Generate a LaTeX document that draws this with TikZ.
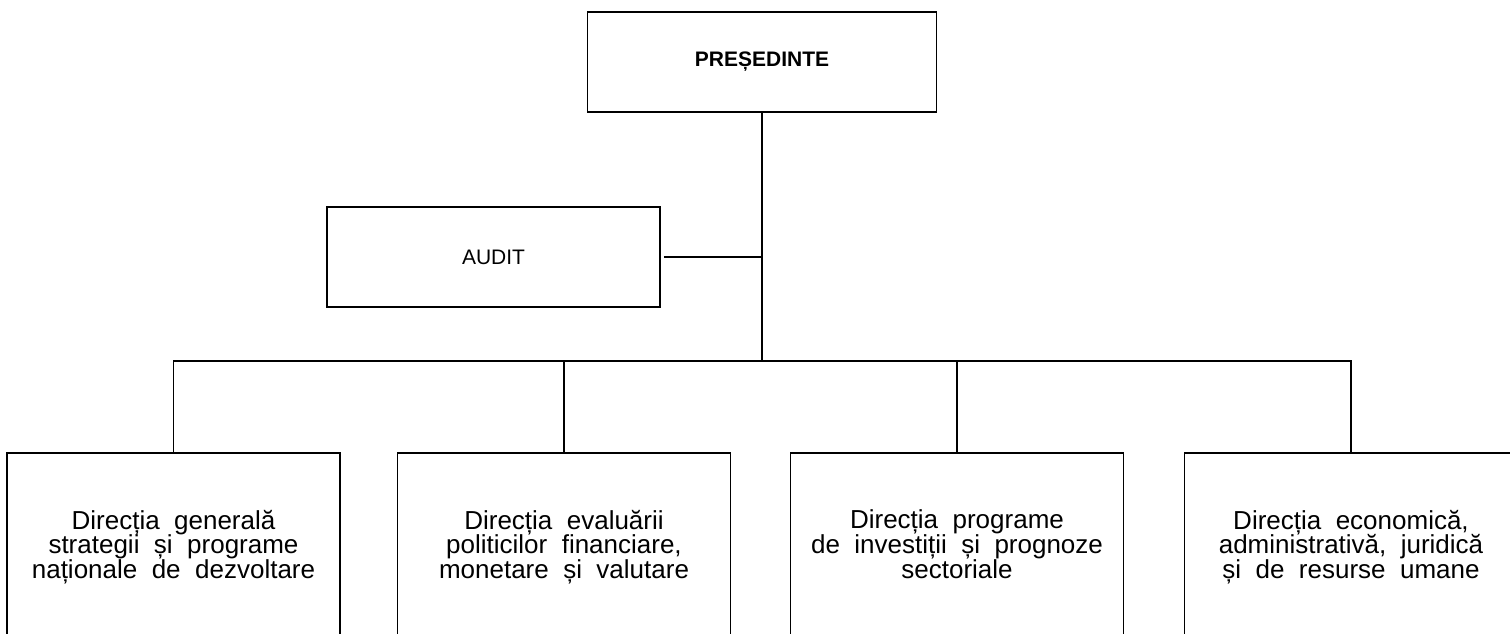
\documentclass[tikz,border=0pt]{standalone}
\usepackage{fontspec}
\setmainfont{Liberation Sans}[WordSpace=2]
\usetikzlibrary{positioning,calc}

\begin{document}
\begin{tikzpicture}[x=0.5pt,y=-0.5pt,
    box/.style={draw, line width=0.9pt, minimum width=166.5pt, minimum height=50pt,
                align=center, inner sep=0pt, font=\fontsize{10.5}{12}\selectfont},
    dirbox/.style={box, minimum height=94pt, font=\fontsize{13}{12.4}\selectfont},
    link/.style={line width=0.9pt}]
            \clip (0,0) rectangle (1510,633);

            % top boxes
            \node[box, minimum width=174.5pt, font=\bfseries\fontsize{10.5}{12}\selectfont] (pres) at (762,62) {PREȘEDINTE};
            \node[box] (audit) at (493.5,257) {AUDIT};
            \coordinate (hub) at (762,361);

            % directions
            \node[dirbox] (dir1) at (173.5,547) {Direcția generală\\strategii și programe\\naționale de dezvoltare};
            \node[dirbox] (dir2) at (564,547) {Direcția evaluării\\politicilor financiare,\\monetare și valutare};
            \node[dirbox] (dir3) at (957,547) {Direcția programe\\de investiții și prognoze\\sectoriale\vphantom{ș}};
            \node[dirbox] (dir4) at (1351,547) {Direcția economică,\\administrativă, juridică\\și de resurse umane};

            % lines
            \draw[link] (pres) -- (hub);
            \draw[link] ([xshift=1.5pt]audit.east) -- (audit.east -| hub);
            \foreach \dname in {dir1,dir2,dir3,dir4}
                \draw[link] (\dname.north) |- (hub);
        \end{tikzpicture}
\end{document}
